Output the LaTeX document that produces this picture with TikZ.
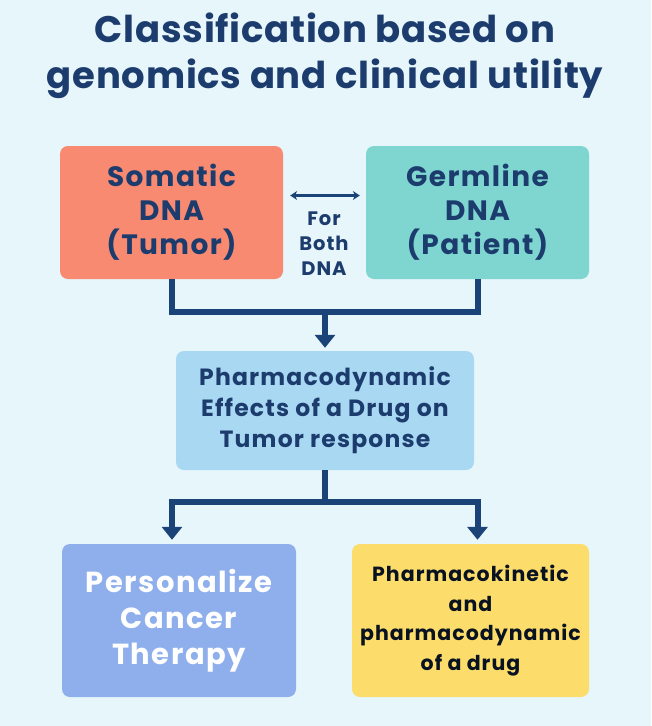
\documentclass[tikz,border=0pt]{standalone}
\usepackage{fontspec}
\setmainfont{Poppins}[LetterSpace=2]
\newfontfamily\boxfont{Poppins}[LetterSpace=5]
\usetikzlibrary{arrows.meta}
\definecolor{bgblue}{HTML}{E7F6FB}
\definecolor{navy}{HTML}{1D3C6E}
\definecolor{linkblue}{HTML}{1A4377}
\definecolor{somred}{HTML}{F88A72}
\definecolor{germteal}{HTML}{7FD6D1}
\definecolor{midblue}{HTML}{A9D8F2}
\definecolor{perblue}{HTML}{8FAFEC}
\definecolor{pkyellow}{HTML}{FCDC6B}

\begin{document}
\begin{tikzpicture}[x=1pt,y=-1pt,
    box/.style={rounded corners=8pt, align=center, inner sep=0pt, text=navy},
    link/.style={draw=linkblue, line width=6pt},
    linkarrow/.style={link, -{Triangle[length=13pt,width=20pt]}},
    bothway/.style={draw=linkblue, line width=2.2pt, {Stealth[length=7pt,width=9pt]}-{Stealth[length=7pt,width=9pt]}}]
\fill[bgblue] (0,0) rectangle (651,726);
\useasboundingbox (0,0) rectangle (651,726);
\node[text=navy, align=center, font=\bfseries\fontsize{37}{46}\selectfont] (title) at (325,56) {Classification based on\\genomics and clinical utility};
\node[box, fill=somred, minimum width=223pt, minimum height=133pt, font=\boxfont\bfseries\fontsize{28}{34}\selectfont] (som) at (171.5,212.5) {Somatic\\DNA\\(Tumor)};
\node[box, fill=germteal, minimum width=223pt, minimum height=133pt, font=\boxfont\bfseries\fontsize{28}{34}\selectfont] (ger) at (477.5,212.5) {Germline\\DNA\\(Patient)};
\node[text=navy, align=center, font=\boxfont\bfseries\fontsize{19.5}{25}\selectfont] (both) at (324,244) {For\\Both\\DNA};
\node[box, fill=midblue, minimum width=298pt, minimum height=119pt, font=\boxfont\bfseries\fontsize{23.5}{31}\selectfont] (mid) at (325,410.5) {Pharmacodynamic\\Effects of a Drug on\\Tumor response};
\node[box, fill=perblue, text=white, minimum width=234pt, minimum height=153pt, font=\boxfont\bfseries\fontsize{29}{36}\selectfont] (pct) at (179,620.5) {Personalize\\Cancer\\Therapy};
\node[box, fill=pkyellow, text=black!70!navy, minimum width=237pt, minimum height=153pt, font=\boxfont\bfseries\fontsize{20.5}{29.5}\selectfont] (pkd) at (470.5,620.5) {Pharmacokinetic\\and\\pharmacodynamic\\of a drug};
\coordinate (join) at (325,312);
\coordinate (split) at (325,502);
\draw[bothway] ([xshift=7pt,yshift=17pt]som.east) -- ([xshift=-6pt,yshift=17pt]ger.west);
\draw[link] (som.south) |- (join) -| (ger.south);
\draw[linkarrow] (join) -- ([yshift=3pt]mid.north);
\draw[link] (mid.south) -- (split);
\draw[linkarrow] (split) -| ([xshift=-7pt,yshift=4pt]pct.north);
\draw[linkarrow] (split) -| ([xshift=7pt,yshift=4pt]pkd.north);
\end{tikzpicture}
\end{document}
